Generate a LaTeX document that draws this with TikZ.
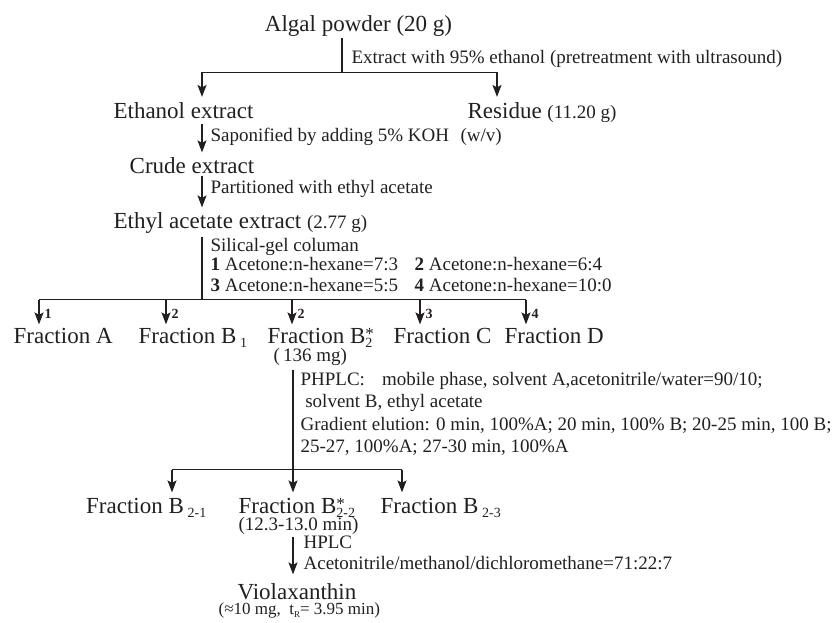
\documentclass[tikz,border=0pt]{standalone}
\usepackage{fontspec}
\setmainfont{Liberation Serif}
\usetikzlibrary{arrows.meta}
\definecolor{ink}{RGB}{35,31,32}
\newcommand\bigf{\fontsize{23}{23}\selectfont}
\newcommand\smf{\fontsize{19}{19}\selectfont}
\newcommand\subf{\fontsize{14}{14}\selectfont}
\newcommand\lowsub[1]{\raisebox{-4pt}{\subf #1}}
\newcommand\subsup[2]{\makebox[0pt][l]{\raisebox{4pt}{\fontsize{17}{17}\selectfont #2}}\lowsub{#1}}
\tikzset{
  big/.style={font=\bigf, inner sep=0pt, text height=16pt, text depth=5pt},
  sm/.style={font=\smf, inner sep=0pt, text height=13pt, text depth=4pt, anchor=base west},
  num/.style={font=\fontsize{14}{14}\selectfont\bfseries, inner sep=0pt, anchor=base west},
  arr/.style={-{Stealth[length=12pt,width=9pt,inset=2.5pt]}}
}
\begin{document}
\begin{tikzpicture}[x=1pt, y=-1pt, line width=1.2pt, draw=ink, text=ink]
\useasboundingbox (0,0) rectangle (832,623);
% top
\node[big, anchor=base] (algal) at (358.5,32) {Algal powder (20 g)};
\node[sm] (t1) at (351,64) {Extract with 95\% ethanol (pretreatment with ultrasound)};
\coordinate (j1) at (342,72.5);
\coordinate (jL) at (202,72.5);
\coordinate (jR) at (497,72.5);
\node[big, anchor=base] (ethanol) at (183.5,118.5) {Ethanol extract};
\node[big, anchor=base west] (residue) at (467,118.5) {Residue {\smf (11.20 g)}};
\draw (algal.south -| j1) -- (j1);
\draw (jL) -- (jR);
\draw[arr, shorten >=5pt] (jL) -- (jL |- ethanol.north);
\draw[arr, shorten >=5pt] (jR) -- (jR |- residue.north);
% saponify
\coordinate (x2) at (202,0);
\node[sm] (t2) at (210,142) {Saponified by adding 5\% KOH\hspace{0.6em}(w/v)};
\node[big, anchor=base] (crude) at (192,173) {Crude extract};
\draw[arr, shorten >=4pt] (x2 |- ethanol.south) -- (x2 |- crude.north);
\node[sm] (t3) at (210,193) {Partitioned with ethyl acetate};
\node[big, anchor=base west] (ethyl) at (113,228) {Ethyl acetate extract {\smf (2.77 g)}};
\draw[arr, shorten >=4pt, shorten <=-3pt] (x2 |- crude.south) -- (x2 |- ethyl.north);
% silica
\node[sm] (s0) at (210,251) {Silical-gel columan};
\node[sm] (s1) at (210,270) {\textbf{1} Acetone:n-hexane=7:3};
\node[sm] (s2) at (414,270) {\textbf{2} Acetone:n-hexane=6:4};
\node[sm] (s3) at (210,291) {\textbf{3} Acetone:n-hexane=5:5};
\node[sm] (s4) at (414,291) {\textbf{4} Acetone:n-hexane=10:0};
\coordinate (h1) at (39,299.5);
\coordinate (h2) at (166,299.5);
\coordinate (h3) at (292,299.5);
\coordinate (h4) at (420,299.5);
\coordinate (h5) at (526,299.5);
\draw (x2 |- ethyl.south) ++(0,3) -- (x2 |- h1);
\draw (h1) -- (h5);
\node[big, anchor=base west] (fA) at (13,343) {Fraction A};
\node[big, anchor=base west] (fB1) at (138,343) {Fraction B\,\lowsub{1}};
\node[big, anchor=base west, text depth=2pt] (fB2) at (267,343) {Fraction B\subsup{2}{*}};
\node[big, anchor=base west] (fC) at (393,343) {Fraction C};
\node[big, anchor=base west] (fD) at (504,343) {Fraction D};
\draw[arr, shorten >=2pt] (h1) -- (h1 |- fA.north);
\draw[arr, shorten >=2pt] (h2) -- (h2 |- fB1.north);
\draw[arr, shorten >=2pt] (h3) -- (h3 |- fB2.north);
\draw[arr, shorten >=2pt] (h4) -- (h4 |- fC.north);
\draw[arr, shorten >=2pt] (h5) -- (h5 |- fD.north);
\node[num] (n1) at (44,318) {1};
\node[num] (n2) at (171,318) {2};
\node[num] (n3) at (297,318) {2};
\node[num] (n4) at (425,318) {3};
\node[num] (n5) at (531,318) {4};
% PHPLC
\node[sm, text height=12pt] (mg) at (273,361) {(\,136 mg)};
\coordinate (x3) at (293,0);
\node[sm] (p1) at (300,385) {PHPLC:\hspace{0.9em}mobile phase, solvent A,acetonitrile/water=90/10;};
\node[sm] (p2) at (300,407) {\ solvent B, ethyl acetate};
\node[sm] (p3) at (300,430) {Gradient elution: 0 min, 100\%A; 20 min, 100\% B; 20-25 min, 100 B;};
\node[sm] (p4) at (300,452) {25-27, 100\%A; 27-30 min, 100\%A};
\coordinate (k1) at (172,469.5);
\coordinate (k3) at (402,469.5);
\node[big, anchor=base east] (fB21) at (207,513) {Fraction B\,\lowsub{2-1}};
\node[big, anchor=base west, text depth=2pt] (fB22) at (238,513) {Fraction B\subsup{2-2}{*}};
\node[big, anchor=base west] (fB23) at (380,513) {Fraction B\,\lowsub{2-3}};
\draw (k1) -- (k3);
\draw[arr, shorten <=4pt, shorten >=4pt] (x3 |- mg.south) -- (x3 |- fB22.north);
\draw[arr, shorten >=4pt] (k1) -- (k1 |- fB21.north);
\draw[arr, shorten >=4pt] (k3) -- (k3 |- fB23.north);
\node[sm, text height=12pt] (rt) at (238,530) {(12.3-13.0 min)};
\node[sm] (hp) at (303,548) {HPLC};
\node[sm] (ac) at (303,569) {Acetonitrile/methanol/dichloromethane=71:22:7};
\node[big, anchor=base west, text depth=3pt] (vx) at (237,599) {Violaxanthin};
\node[inner sep=0pt, anchor=base west, font=\fontsize{17}{17}\selectfont] (vq) at (218,614) {(≈10 mg,\hspace{0.5em}t\raisebox{-3pt}{\fontsize{9}{9}\selectfont R}= 3.95 min)};
\draw[arr, shorten >=8pt, shorten <=2pt] (x3 |- rt.south) -- (x3 |- vx.north);
\end{tikzpicture}
\end{document}
